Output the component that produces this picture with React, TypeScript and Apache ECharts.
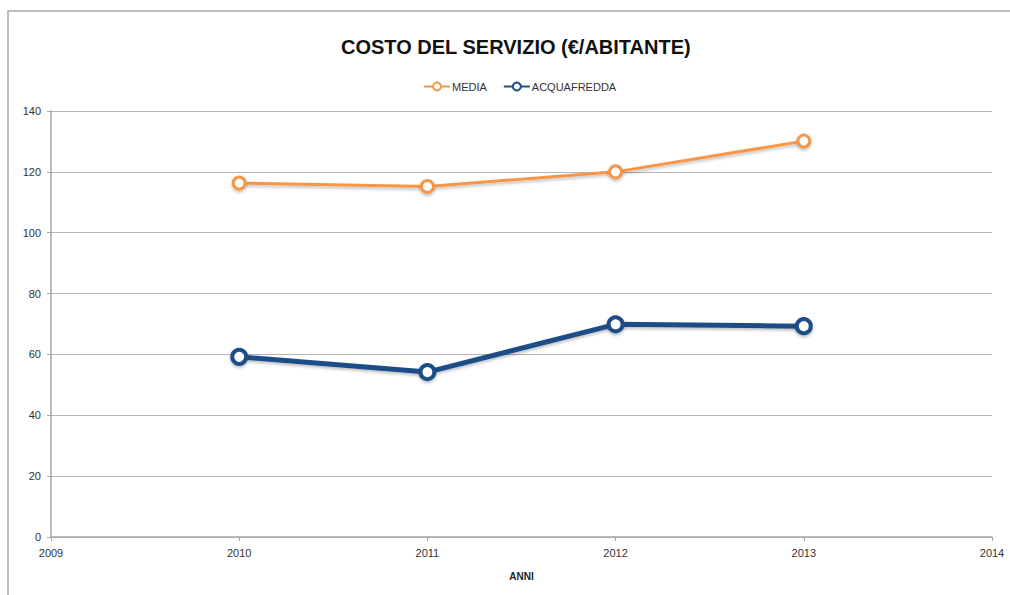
import React, { useEffect, useRef } from "react";
import * as echarts from "echarts";

const years = [2010, 2011, 2012, 2013];
const media = [116.3, 115.2, 120.0, 130.1];
const acquafredda = [59.2, 54.2, 69.9, 69.3];
const seriesNames = ["MEDIA", "ACQUAFREDDA"];
const titleText = "COSTO DEL SERVIZIO (€/ABITANTE)";
const xAxisName = "ANNI";

export default function App() {
  const ref = useRef<HTMLDivElement>(null);
  useEffect(() => {
    if (!ref.current) return;
    const chart = echarts.init(ref.current, undefined, { renderer: "svg" });
    const font = "'Liberation Sans', Arial, sans-serif";
    chart.setOption({
      animation: false,
      backgroundColor: "#ffffff",
      textStyle: { fontFamily: font },
      title: {
        text: titleText,
        left: 336,
        top: 32,
        textStyle: { fontSize: 20, fontWeight: "bold", color: "#111", fontFamily: font },
      },
      legend: {
        top: 76,
        left: 418,
        itemWidth: 26,
        itemHeight: 10,
        itemGap: 16,
        textStyle: { fontSize: 11, color: "#333", fontFamily: font, padding: [0, 0, 0, -3] },
        data: seriesNames,
      },
      graphic: [
        {
          type: "rect",
          shape: { x: 8, y: 11, width: 1020, height: 620 },
          style: { fill: "none", stroke: "#a8a8a8", lineWidth: 1.5 },
          silent: true,
          z: -1,
        },
      ],
      grid: { left: 51, right: 18, top: 111, bottom: 58, containLabel: false },
      xAxis: {
        type: "value",
        min: 2009,
        max: 2014,
        interval: 1,
        name: xAxisName,
        nameLocation: "middle",
        nameGap: 34,
        nameTextStyle: { fontSize: 10, fontWeight: "bold", color: "#222", fontFamily: font },
        axisLine: { show: true, lineStyle: { color: "#a6a6a6", width: 1.5 } },
        axisTick: { show: true, length: 4, lineStyle: { color: "#a6a6a6" } },
        axisLabel: { fontSize: 11, color: "#333", margin: 10, fontFamily: font, formatter: (v: number) => String(v) },
        splitLine: { show: false },
      },
      yAxis: {
        type: "value",
        min: 0,
        max: 140,
        interval: 20,
        axisLine: { show: true, lineStyle: { color: "#a6a6a6", width: 1.5 } },
        axisTick: { show: true, length: 4, lineStyle: { color: "#a6a6a6" } },
        axisLabel: { fontSize: 11, color: "#333", margin: 10, fontFamily: font },
        splitLine: { show: true, lineStyle: { color: "#b5b5b5", width: 1.2 } },
      },
      series: [
        {
          name: seriesNames[0],
          type: "line",
          data: years.map((y, i) => [y, media[i]]),
          symbol: "circle",
          symbolSize: 12,
          lineStyle: { color: "#f79646", width: 3, shadowBlur: 3, shadowColor: "rgba(0,0,0,0.25)", shadowOffsetY: 2 },
          itemStyle: { color: "#ffffff", borderColor: "#f79646", borderWidth: 3, shadowBlur: 3, shadowColor: "rgba(0,0,0,0.25)", shadowOffsetY: 2 },
        },
        {
          name: seriesNames[1],
          type: "line",
          data: years.map((y, i) => [y, acquafredda[i]]),
          symbol: "circle",
          symbolSize: 14,
          lineStyle: { color: "#1f4e87", width: 5, shadowBlur: 3, shadowColor: "rgba(0,0,0,0.25)", shadowOffsetY: 2 },
          itemStyle: { color: "#ffffff", borderColor: "#1f4e87", borderWidth: 4, shadowBlur: 3, shadowColor: "rgba(0,0,0,0.25)", shadowOffsetY: 2 },
        },
      ],
    });
    return () => chart.dispose();
  }, []);
  return (
    <div
      ref={ref}
      style={{ position: "absolute", left: 0, top: 0, width: 1010, height: 595 }}
    />
  );
}
